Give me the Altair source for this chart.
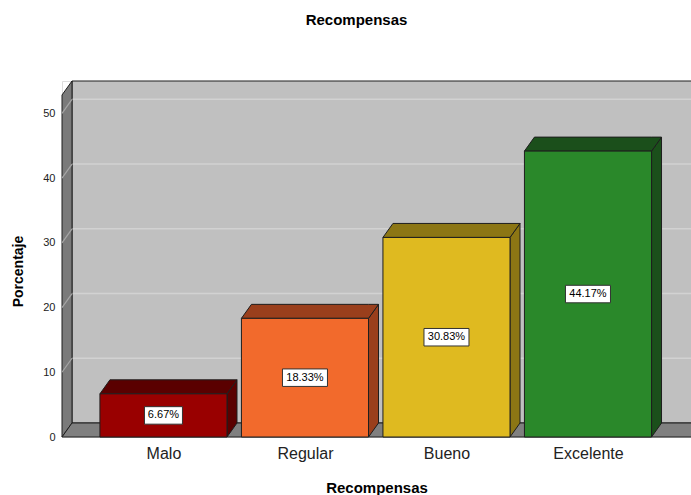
import altair as alt
import pandas as pd

# Survey results: share of answers per rating
categories = ["Malo", "Regular", "Bueno", "Excelente"]
percentages = [6.67, 18.33, 30.83, 44.17]
front_colors = ["#990000", "#F26A2C", "#DFBA20", "#2A882A"]
shade_colors = ["#5A0000", "#9A3F1C", "#8C7614", "#1B4F1B"]
y_ticks = [0, 10, 20, 30, 40, 50]

# Scene geometry (data units)
X_MIN, X_MAX = -0.717, 3.728
Y_MAX = 55.0
PX_PER_X = 629 / (X_MAX - X_MIN)
PX_PER_Y = 356 / Y_MAX
HALF = 0.449              # half bar width
DX = 10 / PX_PER_X        # depth offset, horizontal
DY = 14 / PX_PER_Y        # depth offset, vertical
X_END = X_MAX + 0.05      # walls run past the right edge
EDGE = "#1E1E1E"
FONT = "Liberation Sans"

xs = alt.Scale(domain=[X_MIN, X_MAX], nice=False, zero=False)
ys = alt.Scale(domain=[0, Y_MAX], nice=False, zero=False)

label_expr = "[" + ",".join(f"'{c}'" for c in categories) + "][datum.value]"
x_axis = alt.Axis(
    values=list(range(len(categories))), labelExpr=label_expr, title="Recompensas",
    domain=False, ticks=False, tickSize=0, grid=False, labelPadding=8,
    labelFontSize=16, labelColor="#222222", labelFont=FONT,
    titleFont=FONT, titleFontSize=15, titleFontWeight="bold", titleColor="#000000",
    titleY=50, titleBaseline="middle")
y_axis = alt.Axis(
    values=y_ticks, title="Porcentaje", domain=False, ticks=False, tickSize=0,
    grid=False, labelPadding=7, labelFontSize=11, labelColor="#222222", labelFont=FONT,
    titleFont=FONT, titleFontSize=14, titleFontWeight="bold", titleColor="#000000",
    titleAngle=-90, titleX=-44, titleY=190, titleAlign="center", titleBaseline="middle")


def X(field):
    return alt.X(field, scale=xs, axis=x_axis)


def Y(field, **kw):
    return alt.Y(field, scale=ys, axis=y_axis, **kw)


# back wall
back = pd.DataFrame([{"x": X_MIN + DX, "x2": X_END, "y": DY, "y2": Y_MAX}])
back_layer = alt.Chart(back).mark_rect(fill="#C0C0C0", stroke=EDGE, strokeWidth=1).encode(
    x=X("x:Q"), x2="x2", y=Y("y:Q"), y2="y2")

# grid on the back wall and on the left wall
grid = pd.DataFrame([{"v": v, "xb": X_MIN + DX, "xe": X_END, "yb": v + DY, "xf": X_MIN}
                     for v in y_ticks[1:]])
grid_back = alt.Chart(grid).mark_rule(color="#D2D2D2", strokeWidth=1.5).encode(
    x=X("xb:Q"), x2="xe", y=Y("yb:Q"))
grid_left = alt.Chart(grid).mark_rule(color="#A6A6A6", strokeWidth=1.2).encode(
    x=X("xf:Q"), x2="xb", y=Y("v:Q"), y2="yb")

# left wall and floor
walls = pd.DataFrame([
    {"face": "wall", "x": X_MIN, "y": 0.0, "y2": Y_MAX - DY, "c": "#7A7A7A"},
    {"face": "wall", "x": X_MIN + DX, "y": DY, "y2": Y_MAX, "c": "#7A7A7A"},
    {"face": "floor", "x": X_MIN, "y": 0.0, "y2": 0.0, "c": "#808080"},
    {"face": "floor", "x": X_MIN + DX, "y": 0.0, "y2": DY, "c": "#808080"},
    {"face": "floor", "x": X_END, "y": 0.0, "y2": DY, "c": "#808080"},
])

# bar faces: side and top parallelograms, front rectangles, value boxes
faces, fronts, boxes = [], [], []
for i, (cat, p, fc, sc) in enumerate(zip(categories, percentages, front_colors, shade_colors)):
    xl, xr = i - HALF, i + HALF
    fronts.append({"cat": cat, "x": xl, "x2": xr, "y": 0.0, "y2": p, "c": fc})
    side, top = cat + " side", cat + " top"
    faces += [
        {"face": side, "x": xr, "y": 0.0, "y2": p, "c": sc},
        {"face": side, "x": xr + DX, "y": DY, "y2": p + DY, "c": sc},
        {"face": top, "x": xl, "y": p, "y2": p, "c": sc},
        {"face": top, "x": xl + DX, "y": p, "y2": p + DY, "c": sc},
        {"face": top, "x": xr, "y": p, "y2": p + DY, "c": sc},
        {"face": top, "x": xr + DX, "y": p + DY, "y2": p + DY, "c": sc},
    ]
    label = f"{p:.2f}%"
    hw = (7 * len(label) + 3) / 2 / PX_PER_X
    hh = 8.75 / PX_PER_Y
    boxes.append({"label": label, "xc": float(i), "yc": p / 2,
                  "x": i - hw, "x2": i + hw, "y": p / 2 - hh, "y2": p / 2 + hh})


def faces_layer(df):
    return alt.Chart(df).mark_area(stroke=EDGE, strokeWidth=1).encode(
        x=X("x:Q"), y=Y("y:Q", stack=None), y2="y2",
        detail="face:N", color=alt.Color("c:N", scale=None))


wall_layer = faces_layer(walls)
bar_faces_layer = faces_layer(pd.DataFrame(faces))

front_layer = alt.Chart(pd.DataFrame(fronts)).mark_rect(stroke=EDGE, strokeWidth=1).encode(
    x=X("x:Q"), x2="x2", y=Y("y:Q"), y2="y2", color=alt.Color("c:N", scale=None))

bx = pd.DataFrame(boxes)
box_layer = alt.Chart(bx).mark_rect(fill="#FFFFFF", stroke="#333333", strokeWidth=1).encode(
    x=X("x:Q"), x2="x2", y=Y("y:Q"), y2="y2")
text_layer = alt.Chart(bx).mark_text(font=FONT, fontSize=11, color="#000000").encode(
    x=X("xc:Q"), y=Y("yc:Q"), text="label:N")

chart = alt.layer(
    back_layer, grid_back, wall_layer, grid_left, bar_faces_layer,
    front_layer, box_layer, text_layer
).properties(
    width=629, height=356,
    autosize=alt.AutoSizeParams(type="none"),
    padding={"left": 62, "top": 81, "right": 0, "bottom": 58},
    title=alt.TitleParams("Recompensas", font=FONT, fontSize=15, fontWeight="bold",
                          color="#000000", anchor="middle", dx=-20, offset=51),
).configure_view(stroke=None).configure(background="#FFFFFF")

chart.save("out.html", embed_options={"renderer": "svg", "actions": False})
